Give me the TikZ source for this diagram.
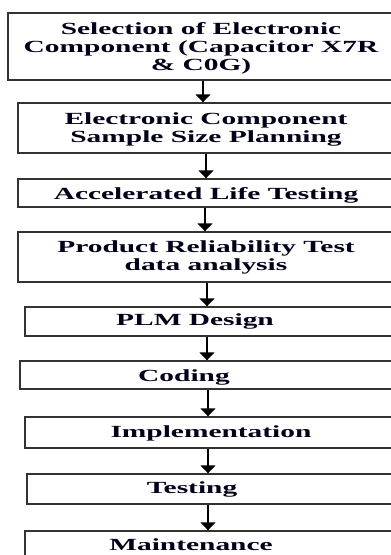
\documentclass[tikz,border=0pt]{standalone}
\usepackage{fontspec}
\setmainfont{Liberation Serif}[FakeStretch=1.73]
\usetikzlibrary{arrows.meta}
\begin{document}
\begin{tikzpicture}[x=1pt,y=-1pt,
  boxstyle/.style={draw=black!80,line width=1.4pt,inner sep=0pt,minimum width=#1},
  txt/.style={inner sep=0pt,align=center,anchor=base,text=black!90!blue,font=\fontsize{17}{18}\selectfont\bfseries},
  arr/.style={draw=black,line width=1.5pt,-{Triangle[width=15pt,length=8pt]}}]
\useasboundingbox (0,0) rectangle (391,555);
\node[boxstyle=383.3pt,minimum height=67pt] (b1) at (199.65,46.5) {};
\node[boxstyle=373.3pt,minimum height=50pt] (b2) at (204.65,128) {};
\node[boxstyle=373.3pt,minimum height=28pt] (b3) at (204.65,193) {};
\node[boxstyle=373.3pt,minimum height=50pt] (b4) at (204.65,257) {};
\node[boxstyle=366.3pt,minimum height=29pt] (b5) at (208.15,321.5) {};
\node[boxstyle=371.3pt,minimum height=28pt] (b6) at (205.65,375) {};
\node[boxstyle=366.3pt,minimum height=31pt] (b7) at (208.15,432.5) {};
\node[boxstyle=364.3pt,minimum height=30pt] (b8) at (209.15,489) {};
\node[boxstyle=366.3pt,minimum height=30pt] (b9) at (208.15,546) {};
\node[txt] (t1) at (201,70) {Selection of Electronic\\Component (Capacitor X7R\\\& C0G)};
\node[txt] (t2) at (206,142) {Electronic Component\\Sample Size Planning};
\node[txt] (t3) at (206,199) {Accelerated Life Testing};
\node[txt] (t4) at (206,270) {Product Reliability Test\\data analysis};
\node[txt] (t5) at (195,325) {PLM Design};
\node[txt] (t6) at (184,381) {Coding};
\node[txt] (t7) at (211,437) {Implementation};
\node[txt] (t8) at (192,493) {Testing};
\node[txt] (t9) at (191,550) {Maintenance};
\coordinate (a1) at (203,0);
\coordinate (a2) at (206,0);
\coordinate (a3) at (205,0);
\coordinate (a4) at (207,0);
\coordinate (a5) at (207,0);
\coordinate (a6) at (208,0);
\coordinate (a7) at (208,0);
\coordinate (a8) at (208,0);
\draw[arr] (b1.south -| a1) -- (b2.north -| a1);
\draw[arr] (b2.south -| a2) -- (b3.north -| a2);
\draw[arr] (b3.south -| a3) -- (b4.north -| a3);
\draw[arr] (b4.south -| a4) -- (b5.north -| a4);
\draw[arr] (b5.south -| a5) -- (b6.north -| a5);
\draw[arr] (b6.south -| a6) -- (b7.north -| a6);
\draw[arr] (b7.south -| a7) -- (b8.north -| a7);
\draw[arr] (b8.south -| a8) -- (b9.north -| a8);
\end{tikzpicture}
\end{document}
